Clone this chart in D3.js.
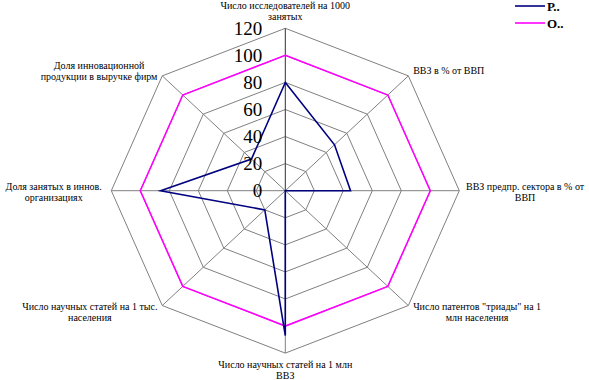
<!DOCTYPE html>
<html><head><meta charset="utf-8">
<script src="https://cdn.jsdelivr.net/npm/d3@7"></script>
<style>body{margin:0;background:#fff}svg{display:block}
text{font-family:"Liberation Serif","Times New Roman",serif}</style>
</head><body>
<svg id="c" width="589" height="380"></svg>
<script>
const categories = [
  ["Число исследователей на 1000", "занятых"],
  ["ВВЗ в % от ВВП"],
  ["ВВЗ предпр. сектора в % от", "ВВП"],
  ["Число патентов \"триады\" на 1", "млн населения"],
  ["Число научных статей на 1 млн", "ВВЗ"],
  ["Число научных статей на 1 тыс.", "населения"],
  ["Доля занятых в иннов.", "организациях"],
  ["Доля инновационной", "продукции в выручке фирм"]
];
const seriesNames = ["Р..", "О.."];
const seriesR = [80, 48, 45, 0, 107, 20, 86, 33];
const seriesO = [100, 100, 100, 100, 100, 100, 100, 100];
const ticks = [0, 20, 40, 60, 80, 100, 120];
const colors = ["#000080", "#FF00FF"];

const svg = d3.select("#c");
const cx = 285.3, cy = 190.7;
const rX = d3.scaleLinear().domain([0, 120]).range([0, 174]);
const rY = d3.scaleLinear().domain([0, 120]).range([0, 162.4]);
const ang = d3.scaleLinear().domain([0, categories.length]).range([0, 2 * Math.PI]);
const pt = (i, v) => [cx + Math.sin(ang(i)) * rX(v), cy - Math.cos(ang(i)) * rY(v)];
const idx = d3.range(categories.length);

// grid rings
const ringLine = d3.line();
svg.append("g").selectAll("path").data(ticks.slice(1)).join("path")
  .attr("d", t => ringLine(idx.map(i => pt(i, t))) + "Z")
  .attr("fill", "none").attr("stroke", "#808080").attr("stroke-width", 1);

// spokes
svg.append("g").selectAll("line").data(idx).join("line")
  .attr("x1", cx).attr("y1", cy)
  .attr("x2", i => pt(i, 120)[0]).attr("y2", i => pt(i, 120)[1])
  .attr("stroke", i => i === 0 ? "#303030" : "#808080").attr("stroke-width", 1);

// series
const lineGen = d3.line();
[seriesO, seriesR].forEach((s, k) => {
  const col = k === 0 ? colors[1] : colors[0];
  svg.append("path")
    .attr("d", lineGen(s.map((v, i) => pt(i, v))) + "Z")
    .attr("fill", "none").attr("stroke", col).attr("stroke-width", 1.6)
    .attr("stroke-linejoin", "miter");
});

// tick labels
svg.append("g").selectAll("text").data(ticks).join("text")
  .attr("x", cx - 23).attr("y", t => pt(0, t)[1])
  .attr("text-anchor", "end").attr("dominant-baseline", "central")
  .attr("font-size", 19).attr("fill", "#000")
  .text(d => d);

// category labels
const lh = 11;
const lab = svg.append("g").attr("font-size", 10).attr("fill", "#000");
categories.forEach((lines, i) => {
  const [vx, vy] = pt(i, 120);
  const s = Math.sin(ang(i)), c = Math.cos(ang(i));
  const t = lab.append("text").attr("text-anchor", "middle");
  lines.forEach((ln, j) => t.append("tspan").attr("dy", j === 0 ? 0 : lh).text(ln));
  const spans = t.selectAll("tspan").nodes();
  const w = d3.max(spans, n => n.getComputedTextLength());
  const nl = lines.length;
  const gap = Math.abs(c) < 0.1 ? (s > 0 ? 6.7 : 9.5) : 4.8;
  let bx;
  if (Math.abs(s) < 0.01) bx = vx;
  else if (s > 0) bx = vx + gap + w / 2;
  else bx = vx - gap - w / 2;
  let ty;
  if (c > 0.9) ty = vy - 8 - (nl - 1) * lh;
  else if (c < -0.9) ty = vy + 14.5;
  else if (c > 0.1) ty = vy - 5 - (nl - 1) * lh / 2 + 3.5;
  else if (c < -0.1) ty = vy + 6 - (nl - 1) * lh / 2 + 3.5;
  else ty = vy + 1 - (nl - 1) * lh / 2 + 3.5;
  t.selectAll("tspan").attr("x", bx);
  t.attr("y", ty);
});

// legend
const lg = svg.append("g");
seriesNames.forEach((n, k) => {
  const y = 6 + k * 17;
  lg.append("line").attr("x1", 515).attr("x2", 545).attr("y1", y).attr("y2", y)
    .attr("stroke", colors[k]).attr("stroke-width", 1.6);
  lg.append("text").attr("x", 547).attr("y", y + 4.5)
    .attr("font-size", 13).attr("font-weight", "bold").text(n);
});
</script>
</body></html>
